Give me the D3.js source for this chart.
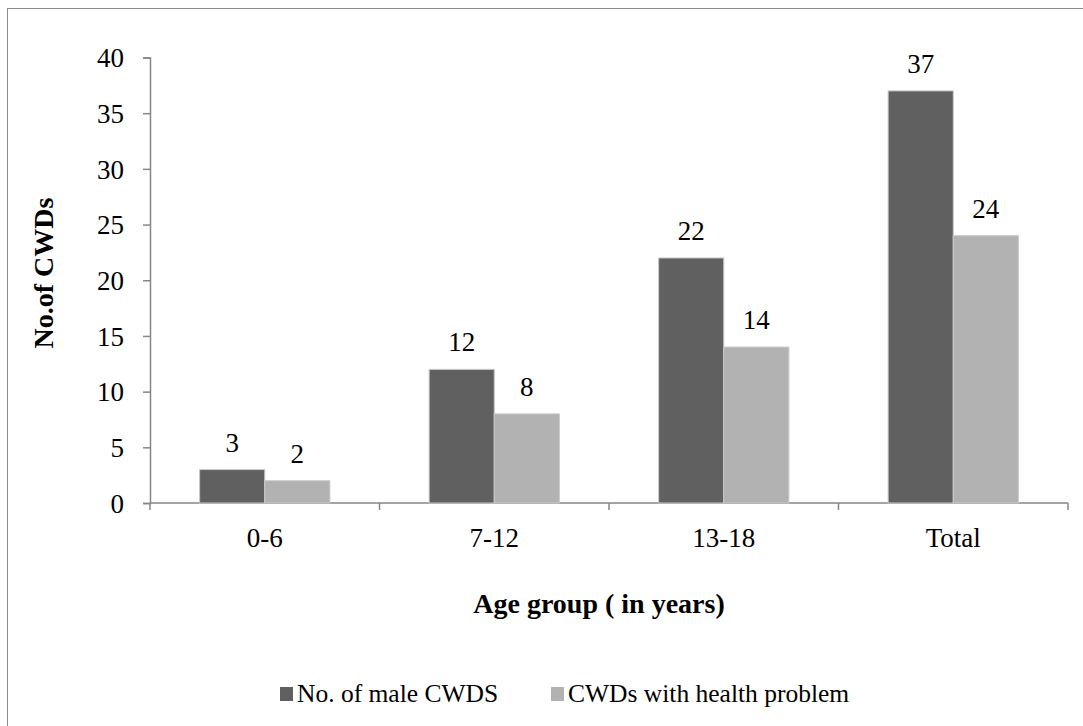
<!DOCTYPE html>
<html>
<head>
<meta charset="utf-8">
<script src="https://cdn.jsdelivr.net/npm/d3@7"></script>
<style>
  html, body { margin: 0; padding: 0; background: #fff; }
  svg { display: block; }
</style>
</head>
<body>
<svg id="chart" width="1083" height="726"></svg>
<script>
// Age groups and counts of children with disabilities
const categories = ["0-6", "7-12", "13-18", "Total"];
const seriesNames = ["No. of male CWDS", "CWDs with health problem"];
const maleCWDs = [3, 12, 22, 37];
const healthProblem = [2, 8, 14, 24];
const yTicks = [0, 5, 10, 15, 20, 25, 30, 35, 40];
const colors = ["#606060", "#b2b2b2"];

const FONT = "'Liberation Serif', 'Times New Roman', Times, serif";
const svg = d3.select("#chart");

// outer frame
svg.append("rect")
  .attr("x", 7.5).attr("y", 8.5)
  .attr("width", 1090).attr("height", 730)
  .attr("fill", "none").attr("stroke", "#8c8c8c").attr("stroke-width", 1);

const plot = { left: 150, right: 1068, top: 57.5, bottom: 503 };

const x0 = d3.scaleBand().domain(categories).range([plot.left, plot.right]).paddingInner(0).paddingOuter(0);
const x1 = d3.scaleBand().domain(seriesNames).range([0, x0.bandwidth()]).paddingInner(0).paddingOuter(0.7625);
const y = d3.scaleLinear().domain([0, 40]).range([plot.bottom, plot.top]);

const axisColor = "#868686";

// y axis
const yAxis = svg.append("g")
  .attr("transform", `translate(${plot.left},0)`)
  .call(d3.axisLeft(y).tickValues(yTicks).tickSize(7).tickPadding(19));
yAxis.select(".domain").attr("stroke", axisColor).attr("stroke-width", 1.5);
yAxis.selectAll(".tick line").attr("stroke", axisColor).attr("stroke-width", 1.5);
yAxis.selectAll(".tick text")
  .style("font-family", FONT).attr("font-size", 27).attr("fill", "#000")
  .attr("dy", "0.34em");

// x axis with ticks between categories
const xAxisG = svg.append("g").attr("transform", `translate(0,${plot.bottom})`);
xAxisG.append("line")
  .attr("x1", plot.left).attr("x2", plot.right)
  .attr("stroke", axisColor).attr("stroke-width", 1.5);
const boundaries = categories.map(c => x0(c)).concat([x0(categories[categories.length - 1]) + x0.bandwidth()]);
xAxisG.selectAll("line.tick").data(boundaries).join("line")
  .attr("class", "tick")
  .attr("x1", d => d).attr("x2", d => d)
  .attr("y1", 0).attr("y2", 7)
  .attr("stroke", axisColor).attr("stroke-width", 1.5);
xAxisG.selectAll("text.cat").data(categories).join("text")
  .attr("class", "cat")
  .attr("x", d => x0(d) + x0.bandwidth() / 2)
  .attr("y", 44)
  .attr("text-anchor", "middle")
  .style("font-family", FONT)
  .attr("font-size", 27)
  .text(d => d);

// bars
const rows = categories.map((c, i) => ({ cat: c, values: [maleCWDs[i], healthProblem[i]] }));
const groups = svg.append("g").selectAll("g").data(rows).join("g")
  .attr("transform", d => `translate(${x0(d.cat)},0)`);
groups.selectAll("rect").data(d => d.values.map((v, j) => ({ v, j }))).join("rect")
  .attr("x", d => x1(seriesNames[d.j]))
  .attr("y", d => y(d.v))
  .attr("width", x1.bandwidth())
  .attr("height", d => plot.bottom - y(d.v))
  .attr("fill", d => colors[d.j])
  .attr("stroke", "#c8c8c8").attr("stroke-width", 1);

// value labels above bars
groups.selectAll("text").data(d => d.values.map((v, j) => ({ v, j }))).join("text")
  .attr("x", d => x1(seriesNames[d.j]) + x1.bandwidth() / 2)
  .attr("y", d => y(d.v) - 18)
  .attr("text-anchor", "middle")
  .style("font-family", FONT)
  .attr("font-size", 27)
  .text(d => d.v);

// axis titles
svg.append("text")
  .attr("x", 599).attr("y", 613)
  .attr("text-anchor", "middle")
  .style("font-family", FONT)
  .attr("font-size", 28).attr("font-weight", "bold")
  .text("Age group ( in years)");
svg.append("text")
  .attr("transform", "translate(53,273) rotate(-90)")
  .attr("text-anchor", "middle")
  .style("font-family", FONT)
  .attr("font-size", 28).attr("font-weight", "bold")
  .text("No.of CWDs");

// legend
const legendX = [280, 551];
const legend = svg.append("g").selectAll("g").data(seriesNames).join("g")
  .attr("transform", (d, i) => `translate(${legendX[i]},687)`);
legend.append("rect")
  .attr("width", 13).attr("height", 14)
  .attr("fill", (d, i) => colors[i]);
legend.append("text")
  .attr("x", 17).attr("y", 15)
  .style("font-family", FONT)
  .attr("font-size", 25.5)
  .text(d => d);
</script>
</body>
</html>
